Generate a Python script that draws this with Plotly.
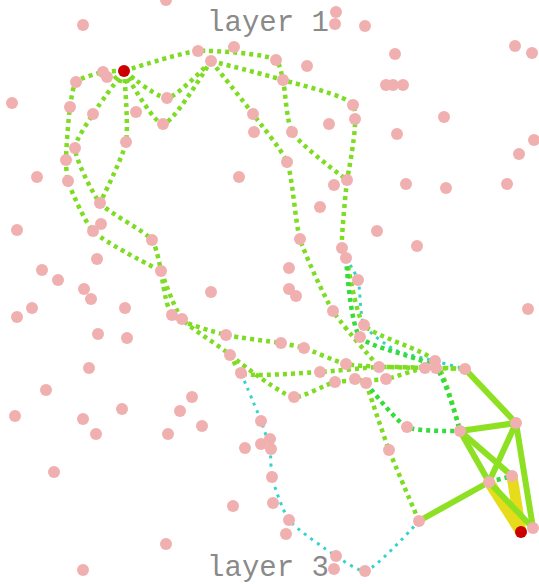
import numpy as np
import plotly.graph_objects as go

# ---- data: node positions (layout coordinates) ----
node_x = [166, 83, 336, 335, 365, 103, 107, 76, 198, 234, 211, 276, 307, 283, 395, 386, 393, 403, 515, 532,
          12, 70, 93, 136, 167, 163, 253, 254, 353, 355, 329, 292, 397, 444, 534, 75, 126, 66, 37, 68,
          239, 287, 347, 334, 406, 446, 507, 519, 100, 101, 93, 17, 152, 161, 320, 300, 377, 417, 342, 346,
          289, 358, 289, 296, 97, 42, 58, 84, 91, 125, 32, 17, 211, 172, 182, 98, 127, 333, 528, 364,
          360, 226, 281, 304, 230, 241, 89, 346, 320, 379, 386, 355, 366, 335, 435, 425, 436, 465, 294, 46,
          192, 180, 168, 202, 122, 96, 83, 15, 407, 460, 516, 389, 489, 512, 533, 419, 261, 270, 261, 271,
          245, 272, 273, 233, 289, 286, 336, 334, 365, 54, 166, 83]
node_y = [0, 25, 12, 24, 26, 72, 77, 82, 51, 47, 61, 60, 66, 80, 54, 85, 85, 85, 46, 53,
          103, 107, 114, 112, 98, 124, 114, 132, 105, 119, 124, 132, 134, 117, 140, 148, 142, 160, 177, 181,
          177, 162, 180, 185, 184, 188, 184, 154, 203, 224, 231, 230, 240, 271, 207, 239, 231, 246, 248, 258,
          268, 280, 289, 296, 259, 270, 280, 289, 299, 308, 308, 317, 292, 315, 319, 334, 338, 311, 309, 325,
          337, 335, 343, 348, 355, 373, 368, 364, 372, 367, 379, 379, 383, 382, 361, 368, 368, 369, 397, 390,
          397, 411, 434, 426, 409, 434, 419, 416, 427, 431, 423, 450, 482, 476, 528, 521, 421, 439, 444, 449,
          448, 477, 503, 506, 520, 534, 556, 569, 571, 472, 544, 570]

source = (124, 71)
target = (521, 532)

# ---- routes (sequences of node positions) ----
green_dotted_routes = [
    [source, (103, 72), (76, 82), (70, 107), (66, 160), (68, 181), (93, 231), (161, 271)],
    [source, (93, 114), (75, 148), (100, 203), (152, 240), (161, 271)],
    [source, (126, 142), (100, 203)],
    [source, (163, 124), (211, 61)],
    [source, (167, 98), (211, 61)],
    [source, (198, 51), (276, 60), (283, 80), (292, 132), (347, 180)],
    [(211, 61), (283, 80), (353, 105), (347, 180)],
    [(211, 61), (253, 114), (287, 162), (300, 239), (333, 311), (379, 367)],
    [(347, 180), (342, 248), (346, 258), (364, 325), (435, 361), (460, 431)],
    [(161, 271), (172, 315), (226, 335), (281, 343), (304, 348), (346, 364), (425, 368)],
    [(161, 271), (182, 319), (230, 355), (241, 373), (320, 372), (379, 367), (465, 369)],
    [(230, 355), (294, 397), (335, 382), (386, 379), (425, 368), (465, 369)],
    [(366, 383), (389, 450), (419, 521)],
]
bright_dotted_routes = [
    [(366, 383), (407, 427), (460, 431)],
    [(346, 258), (360, 337), (436, 368), (460, 431)],
    [(489, 482), (512, 476)],
]
cyan_routes = [
    [(346, 258), (358, 280), (364, 325), (395, 350), (435, 361), (465, 369)],
    [(241, 373), (261, 421), (270, 449), (272, 477), (289, 520), (336, 556), (365, 571), (419, 521)],
]
green_solid_edges = [
    [(465, 369), (516, 423)], [(460, 431), (516, 423)], [(460, 431), (489, 482)],
    [(460, 431), (512, 476)], [(516, 423), (489, 482)], [(516, 423), (533, 528)],
    [(489, 482), (533, 528)], [(419, 521), (489, 482)],
]
yellow_edges = [
    [(489, 482), (521, 532)], [(512, 476), (521, 532)],
]

layer_labels = ["layer 1", "layer 3"]
label_y = [24, 569]

fig = go.Figure()


def add_routes(routes, color, width, dash, shape="spline"):
    for r in routes:
        fig.add_trace(go.Scatter(
            x=[p[0] for p in r], y=[p[1] for p in r], mode="lines",
            line=dict(color=color, width=width, dash=dash, shape=shape, smoothing=0.6),
            hoverinfo="skip", showlegend=False))


add_routes(yellow_edges, "#e6dc1c", 11, "solid", "linear")
add_routes(green_solid_edges, "#8ee022", 6, "solid", "linear")
add_routes(cyan_routes, "#36d3cc", 3, "3px,5px")
add_routes(green_dotted_routes, "#7edc22", 4.5, "4px,4px")
add_routes(bright_dotted_routes, "#34dc3c", 4.5, "4px,4px")

# dotted arc under the source node where the routes leave it
theta = np.linspace(0.15 * np.pi, 0.85 * np.pi, 12)
arc_r = 11
fig.add_trace(go.Scatter(x=source[0] + arc_r * np.cos(theta), y=source[1] + arc_r * np.sin(theta),
                         mode="lines", line=dict(color="#7edc22", width=4, dash="4px,3px"),
                         hoverinfo="skip", showlegend=False))

fig.add_trace(go.Scatter(x=node_x, y=node_y, mode="markers",
                         marker=dict(color="#f1b0b0", size=12, line=dict(width=0)),
                         cliponaxis=False, hoverinfo="skip", showlegend=False))
fig.add_trace(go.Scatter(x=[source[0], target[0]], y=[source[1], target[1]], mode="markers",
                         marker=dict(color="#cc0000", size=12, line=dict(width=0)),
                         cliponaxis=False, hoverinfo="skip", showlegend=False))
fig.add_trace(go.Scatter(x=[268, 268], y=label_y, mode="text", text=layer_labels,
                         textfont=dict(family="Liberation Mono, Courier New, monospace", size=29, color="#8a8a8a"),
                         cliponaxis=False, hoverinfo="skip", showlegend=False))

fig.update_layout(width=539, height=584, margin=dict(l=0, r=0, t=0, b=0),
                  paper_bgcolor="white", plot_bgcolor="white")
fig.update_xaxes(range=[0, 539], visible=False, fixedrange=True)
fig.update_yaxes(range=[584, 0], visible=False, fixedrange=True)

fig.write_html("out.html", config={"displayModeBar": False},
               post_script="document.body.style.margin='0';document.body.style.overflow='hidden';")
